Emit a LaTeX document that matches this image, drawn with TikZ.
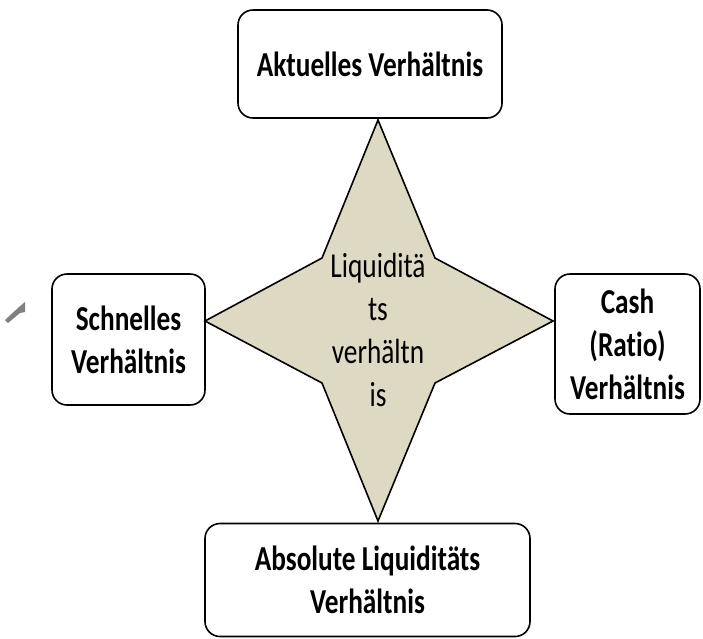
\documentclass[tikz,border=0pt]{standalone}
\usepackage{fontspec}
\setmainfont{Carlito}[FakeStretch=0.78, Ligatures={NoCommon}]
\definecolor{startan}{RGB}{221,217,195}
\begin{document}
\begin{tikzpicture}[x=1pt, y=-1pt,
  ratiobox/.style={draw, line width=1.6pt, rounded corners=15pt, align=center,
    inner sep=0pt, font=\fontsize{35}{43}\selectfont\bfseries},
  centertext/.style={align=center, font=\fontsize{35}{43}\selectfont}]
\useasboundingbox (0,0) rectangle (703,638);
\coordinate (tip t) at (378,120);
\coordinate (tip r) at (553,321);
\coordinate (tip b) at (378,521);
\coordinate (tip l) at (205,321);
\draw [line width=1.6pt, fill=startan, line join=miter]
  (tip t) -- (435,258) -- (tip r) -- (435,383) -- (tip b) -- (322,383) -- (tip l) -- (322,258) -- cycle;
\node [centertext] (liq) at (378,330) {Liquiditä\\ts\\verhältn\\is};
\node [ratiobox, minimum width=264pt, minimum height=108pt] (akt) at (370,64) {Aktuelles Verhältnis};
\node [ratiobox, minimum width=153pt, minimum height=131pt] (schn) at (128.5,339.5) {Schnelles\\Verhältnis};
\node [ratiobox, minimum width=145pt, minimum height=140pt] (cash) at (627.5,344) {Cash\\(Ratio)\\Verhältnis};
\node [ratiobox, minimum width=325pt, minimum height=113pt] (abs) at (367.5,580) {Absolute Liquiditäts\\Verhältnis};
\fill [gray] (5,320) -- (8,323) -- (20,313) -- (25,312) -- (25,302) -- (19,307) -- cycle;
\end{tikzpicture}
\end{document}
